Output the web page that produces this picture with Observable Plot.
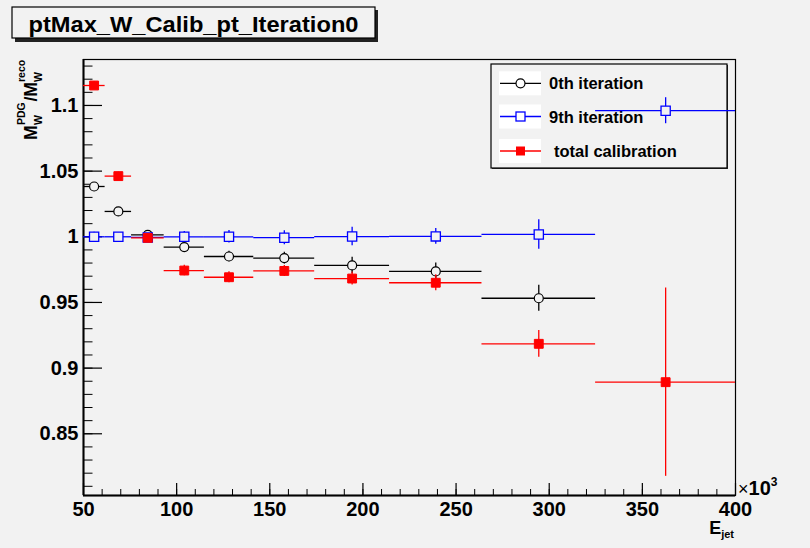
<!DOCTYPE html>
<html><head><meta charset="utf-8">
<script src="https://cdn.jsdelivr.net/npm/d3@7"></script>
<script src="https://cdn.jsdelivr.net/npm/@observablehq/plot@0.6"></script>
<style>
html,body{margin:0;padding:0;background:#f2f2f2;}
#chart{position:relative;width:810px;height:548px;overflow:hidden;}
svg{font-family:"Liberation Sans",Arial,Helvetica,sans-serif;}
</style></head><body><div id="chart"></div>
<script>
// ---- data ----
const binEdges   = [50, 61.6, 75.8, 93.3, 114.9, 141.4, 174.1, 214.3, 263.9, 324.9, 400];
const binCenters = [55.7, 68.7, 84.5, 104.1, 128.1, 157.8, 194.2, 239.1, 294.4, 362.5];
const iter0      = [1.0383, 1.0193, 1.0015, 0.9922, 0.9850, 0.9838, 0.9782, 0.9736, 0.9532, null];
const iter0Err   = [0.003, 0.003, 0.003, 0.0035, 0.004, 0.0045, 0.0063, 0.0065, 0.0099, null];
const iter9      = [1.0, 1.0, 0.9995, 1.0, 1.0, 0.9993, 1.0002, 1.0003, 1.0018, 1.0960];
const iter9Err   = [0.0035, 0.002, 0.002, 0.004, 0.0048, 0.0053, 0.007, 0.006, 0.0112, 0.0099];
const totalCal   = [1.1152, 1.0462, 0.9992, 0.9743, 0.9692, 0.9740, 0.9682, 0.9650, 0.9185, 0.8893];
const totalErr   = [0.003, 0.003, 0.003, 0.004, 0.0042, 0.0042, 0.005, 0.006, 0.0102, 0.0717];
const seriesNames = ["0th iteration", "9th iteration", "total calibration"];
const xDomain = [50, 400];
const yDomain = [0.803, 1.135];
const xMajorTicks = [50, 100, 150, 200, 250, 300, 350, 400];
const xMinorTicks = d3.range(50, 401, 10);
const yMajorTicks = [0.85, 0.9, 0.95, 1, 1.05, 1.1];
const yTickLabels = ["0.85", "0.9", "0.95", "1", "1.05", "1.1"];
const yMinorTicks = d3.range(81, 114).map(d => d / 100);

const W = 810, H = 548, mL = 83, mR = 75, mT = 59, mB = 53;
const frameW = W - mL - mR, frameH = H - mT - mB;
const BG = "#f2f2f2";
const FONT = "Liberation Sans, Arial, Helvetica, sans-serif";

function rows(vals, errs) {
  return vals.map((v, i) => v == null ? null : ({c: binCenters[i], lo: binEdges[i], hi: binEdges[i + 1], v, e: errs[i]})).filter(Boolean);
}
const black = rows(iter0, iter0Err), blue = rows(iter9, iter9Err), red = rows(totalCal, totalErr);

function series(data, color, symbol, r, fill, sw) {
  return [
    Plot.ruleY(data, {y: "v", x1: "lo", x2: "hi", stroke: color, strokeWidth: 1.3}),
    Plot.ruleX(data, {x: "c", y1: d => d.v - d.e, y2: d => d.v + d.e, stroke: color, strokeWidth: 1.3}),
    Plot.dot(data, {x: "c", y: "v", symbol, r, stroke: color, fill, strokeWidth: sw})
  ];
}

const plot = Plot.plot({
  width: W, height: H,
  marginLeft: mL, marginRight: mR, marginTop: mT, marginBottom: mB,
  style: {background: "transparent", fontFamily: FONT},
  x: {domain: xDomain, axis: null},
  y: {domain: yDomain, axis: null},
  marks: [
    Plot.tickX(xMinorTicks, {x: d => d, insetTop: frameH - 6, stroke: "black", strokeWidth: 1}),
    Plot.tickX(xMajorTicks, {x: d => d, insetTop: frameH - 12, stroke: "black", strokeWidth: 1.2}),
    Plot.tickY(yMinorTicks, {y: d => d, insetRight: frameW - 9.5, stroke: "black", strokeWidth: 1}),
    Plot.tickY(yMajorTicks, {y: d => d, insetRight: frameW - 19, stroke: "black", strokeWidth: 1.2}),
    Plot.frame({stroke: "black", strokeWidth: 1.2}),
    Plot.ruleX([xDomain[0]], {x: d => d, stroke: "black", strokeWidth: 2}),
    Plot.ruleY([yDomain[0]], {y: d => d, stroke: "black", strokeWidth: 2}),
    ...series(black, "black", "circle", 4.5, BG, 1.2),
    ...series(blue, "#0000ff", "square", 5.2, BG, 1.3),
    ...series(red, "#ff0000", "square", 5, "#ff0000", 1),
    Plot.text(xMajorTicks, {x: d => d, y: () => yDomain[0], dy: 14, text: d => String(d),
      fontSize: 20, fontWeight: "bold", fill: "black", fontFamily: FONT}),
    Plot.text(yMajorTicks, {x: () => xDomain[0], y: d => d, dx: -5, textAnchor: "end",
      text: (d, i) => yTickLabels[i], fontSize: 20, fontWeight: "bold", fill: "black", fontFamily: FONT})
  ]
});
document.getElementById("chart").appendChild(plot);

const svg = d3.select(plot);
// ---- legend (under the data) ----
const leg = svg.insert("g", "g").attr("text-anchor", "start");
leg.append("rect").attr("x", 492).attr("y", 65).attr("width", 236).attr("height", 104).attr("fill", "#333");
leg.append("rect").attr("x", 491).attr("y", 64).attr("width", 236).attr("height", 104)
  .attr("fill", BG).attr("stroke", "black").attr("stroke-width", 1.2);
const rowsY = [83.3, 116.5, 151];
const legColors = ["black", "#0000ff", "#ff0000"];
rowsY.forEach((cy, i) => {
  leg.append("rect").attr("x", 499).attr("y", cy - 12).attr("width", 42).attr("height", 24).attr("fill", "white");
  leg.append("line").attr("x1", 500).attr("x2", 541).attr("y1", cy).attr("y2", cy)
    .attr("stroke", legColors[i]).attr("stroke-width", 1.3);
  if (i === 0) leg.append("circle").attr("cx", 520.5).attr("cy", cy).attr("r", 4.5)
    .attr("fill", "white").attr("stroke", "black").attr("stroke-width", 1.2);
  else if (i === 1) leg.append("rect").attr("x", 516).attr("y", cy - 4.5).attr("width", 9).attr("height", 9)
    .attr("fill", "white").attr("stroke", "#0000ff").attr("stroke-width", 1.3);
  else leg.append("rect").attr("x", 516).attr("y", cy - 4.5).attr("width", 9).attr("height", 9).attr("fill", "#ff0000");
  leg.append("text").attr("x", i === 2 ? 554 : 549).attr("y", cy + 6).attr("text-anchor", "start")
    .attr("font-size", 16.5).attr("font-weight", "bold").attr("fill", "black").attr("font-family", FONT)
    .text(seriesNames[i]);
});

// ---- title box ----
const tg = svg.append("g");
tg.append("rect").attr("x", 15).attr("y", 10).attr("width", 363).attr("height", 32).attr("fill", "#222");
tg.append("rect").attr("x", 12).attr("y", 7).attr("width", 363).attr("height", 31)
  .attr("fill", BG).attr("stroke", "black").attr("stroke-width", 1.2);
tg.append("text").attr("x", 193.5).attr("y", 31.5).attr("text-anchor", "middle")
  .attr("font-size", 22).attr("font-weight", "bold").attr("font-family", FONT).attr("fill", "black")
  .attr("textLength", 330).attr("lengthAdjust", "spacingAndGlyphs")
  .text("ptMax_W_Calib_pt_Iteration0");

// ---- axis titles ----
const xt = svg.append("text").attr("x", 734).attr("y", 534).attr("text-anchor", "end")
  .attr("font-family", FONT).attr("font-weight", "bold").attr("fill", "black");
xt.append("tspan").attr("font-size", 18).text("E");
xt.append("tspan").attr("font-size", 11).attr("dy", 4).text("jet");

const mult = svg.append("text").attr("x", 738).attr("y", 495).attr("text-anchor", "start")
  .attr("font-family", FONT).attr("fill", "black");
mult.append("tspan").attr("font-size", 18).text("×");
mult.append("tspan").attr("font-size", 20).attr("font-weight", "bold").text("10");
mult.append("tspan").attr("font-size", 12).attr("font-weight", "bold").attr("dy", -9).text("3");

const yt = svg.append("g").attr("transform", "translate(37,140) rotate(-90)").attr("text-anchor", "start")
  .attr("font-family", FONT).attr("font-weight", "bold").attr("fill", "black");
yt.append("text").attr("x", 0).attr("y", 0).attr("font-size", 17.5).text("M");
yt.append("text").attr("x", 15).attr("y", 5).attr("font-size", 10.5).text("W");
yt.append("text").attr("x", 15).attr("y", -12).attr("font-size", 10.5).text("PDG");
yt.append("text").attr("x", 38.5).attr("y", 0).attr("font-size", 17.5).text("/M");
yt.append("text").attr("x", 58).attr("y", 5).attr("font-size", 10.5).text("W");
yt.append("text").attr("x", 58).attr("y", -12).attr("font-size", 10.5).text("reco");
</script></body></html>
